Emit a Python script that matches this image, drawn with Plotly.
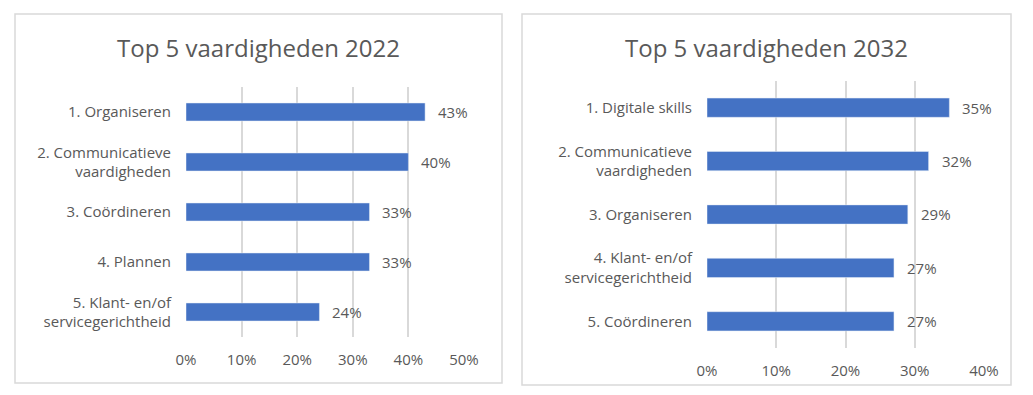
import plotly.graph_objects as go

# window is 1033x395, page body has an 8px margin
OFF = 8
W, H = 1033 - 2 * OFF, 395 - 2 * OFF

cats_2022 = ["1. Organiseren", "2. Communicatieve<br>vaardigheden", "3. Coördineren",
             "4. Plannen", "5. Klant- en/of<br>servicegerichtheid"]
vals_2022 = [0.43, 0.40, 0.33, 0.33, 0.24]

cats_2032 = ["1. Digitale skills", "2. Communicatieve<br>vaardigheden", "3. Organiseren",
             "4. Klant- en/of<br>servicegerichtheid", "5. Coördineren"]
vals_2032 = [0.35, 0.32, 0.29, 0.27, 0.27]

ticks_2022 = [0, 0.1, 0.2, 0.3, 0.4, 0.5]
ticks_2032 = [0, 0.1, 0.2, 0.3, 0.4]

titles = ["Top 5 vaardigheden 2022", "Top 5 vaardigheden 2032"]

BAR = "#4472C4"
GREY = "#595959"
GRID = "#d9d9d9"
FONT = "Open Sans"
FS = 15

fig = go.Figure()
fig.add_trace(go.Bar(x=vals_2022, y=cats_2022, orientation="h", marker_color=BAR,
                     width=0.36, xaxis="x", yaxis="y", hoverinfo="skip"))
fig.add_trace(go.Bar(x=vals_2032, y=cats_2032, orientation="h", marker_color=BAR,
                     width=0.36, xaxis="x2", yaxis="y2", hoverinfo="skip"))

def px_x(p):
    return (p - OFF) / W

def px_y(p):
    return 1 - (p - OFF) / H

axis_common = dict(showgrid=True, gridcolor=GRID, gridwidth=2, zeroline=False,
                   tickformat=".0%", tickfont=dict(family=FONT, size=FS, color=GREY),
                   showline=False, ticks="", fixedrange=True, automargin=False)
yaxis_common = dict(autorange="reversed", showgrid=False, ticks="", ticklabelstandoff=14,
                    automargin=False, fixedrange=True,
                    tickfont=dict(family=FONT, size=FS, color=GREY))

fig.update_layout(
    width=W, height=H,
    margin=dict(l=0, r=0, t=0, b=0, autoexpand=False),
    paper_bgcolor="white", plot_bgcolor="white",
    showlegend=False,
    font=dict(family=FONT, color=GREY),
    xaxis=dict(domain=[px_x(186), px_x(464)], range=[0, 0.5], tickvals=ticks_2022,
               anchor="y", ticklabelstandoff=12, **axis_common),
    yaxis=dict(domain=[px_y(337), px_y(87)], anchor="x", **yaxis_common),
    xaxis2=dict(domain=[px_x(707), px_x(984)], range=[0, 0.4], tickvals=ticks_2032,
                anchor="y2", ticklabelstandoff=12, **axis_common),
    yaxis2=dict(domain=[px_y(348), px_y(81)], anchor="x2", **yaxis_common),
)

# panel borders
fig.add_shape(type="rect", xref="paper", yref="paper",
              x0=px_x(15), x1=px_x(502), y0=px_y(383), y1=px_y(14),
              line=dict(color=GRID, width=1.5))
fig.add_shape(type="rect", xref="paper", yref="paper",
              x0=px_x(522), x1=px_x(1011), y0=px_y(385), y1=px_y(14),
              line=dict(color=GRID, width=1.5))

# titles
fig.add_annotation(text=titles[0], xref="paper", yref="paper", x=px_x(258), y=px_y(47),
                   xanchor="center", yanchor="middle",
                   showarrow=False, font=dict(family=FONT, size=24, color=GREY))
fig.add_annotation(text=titles[1], xref="paper", yref="paper", x=px_x(766), y=px_y(47),
                   xanchor="center", yanchor="middle",
                   showarrow=False, font=dict(family=FONT, size=24, color=GREY))

# data labels
for c, v in zip(cats_2022, vals_2022):
    fig.add_annotation(x=v, y=c, xref="x", yref="y", text=f"{round(v*100)}%",
                       showarrow=False, xanchor="left", xshift=11,
                       font=dict(family=FONT, size=FS, color=GREY))
for c, v in zip(cats_2032, vals_2032):
    fig.add_annotation(x=v, y=c, xref="x2", yref="y2", text=f"{round(v*100)}%",
                       showarrow=False, xanchor="left", xshift=11,
                       font=dict(family=FONT, size=FS, color=GREY))

fig.write_html("out.html")
